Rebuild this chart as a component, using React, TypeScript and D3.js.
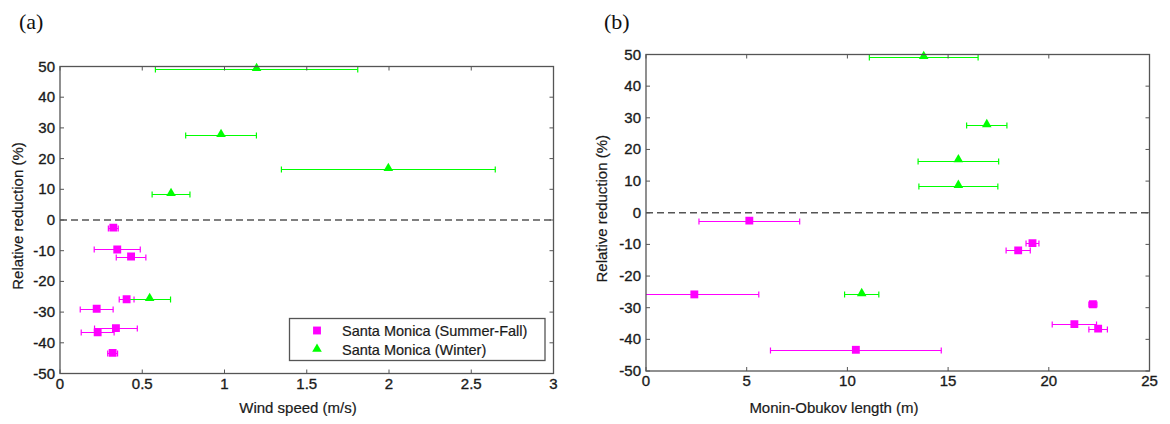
import React from "react";
import * as d3 from "d3";

// relative reduction (%) of each event, shared by both panels
const summerReduction = [-2.5, -9.6, -11.9, -25.8, -28.9, -35.2, -36.6, -43.3];
const winterReduction = [49.1, 27.6, 16.5, 8.4, -25.8];

// panel (a): wind speed (m/s) and its spread
const summerWind = [0.324, 0.348, 0.432, 0.405, 0.223, 0.34, 0.229, 0.32];
const summerWindErr = [0.03, 0.14, 0.09, 0.045, 0.1, 0.13, 0.1, 0.03];
const winterWind = [1.195, 0.979, 1.996, 0.675, 0.545];
const winterWindErr = [0.615, 0.215, 0.65, 0.115, 0.127];

// panel (b): Monin-Obukov length (m) and its spread
const summerMO = [5.13, 19.19, 18.48, 2.4, 22.19, 21.27, 22.45, 10.42];
const summerMOErr = [2.5, 0.32, 0.6, 3.2, 0.2, 1.1, 0.46, 4.24];
const winterMO = [13.79, 16.92, 15.51, 15.51, 10.71];
const winterMOErr = [2.7, 1.0, 2.0, 1.96, 0.85];

const windTicks = [0, 0.5, 1, 1.5, 2, 2.5, 3];
const moTicks = [0, 5, 10, 15, 20, 25];
const yTicks = [50, 40, 30, 20, 10, 0, -10, -20, -30, -40, -50];

const seriesNames = ["Santa Monica (Summer-Fall)", "Santa Monica (Winter)"];
const MAGENTA = "#ff00ff";
const GREEN = "#00ff00";
const FONT = "'Liberation Sans', Arial, sans-serif";

const squarePath = d3.symbol(d3.symbolSquare, 62)() as string;
const trianglePath = d3.symbol(d3.symbolTriangle, 40)() as string;

type PanelProps = {
  id: string;
  tag: string;
  left: number;
  right: number;
  top: number;
  bottom: number;
  xDomain: [number, number];
  xTicks: number[];
  xLabel: string;
  xLabelCenter: number;
  yLabelX: number;
  tagX: number;
  sx: number[];
  sErr: number[];
  wx: number[];
  wErr: number[];
  legend?: boolean;
};

const Panel = (p: PanelProps) => {
  const x = d3.scaleLinear().domain(p.xDomain).range([p.left, p.right]);
  const y = d3.scaleLinear().domain([-50, 50]).range([p.bottom, p.top]);
  const tick = 4;
  const frame = "#555";

  const errBars = (xs: number[], errs: number[], ys: number[], color: string) =>
    xs.map((v, i) => {
      const yy = Math.round(y(ys[i])) + 0.5;
      const x0 = x(v - errs[i]);
      const x1 = x(v + errs[i]);
      return (
        <g key={i} stroke={color} strokeWidth={1.2}>
          <line x1={x0} x2={x1} y1={yy} y2={yy} />
          <line x1={x0} x2={x0} y1={yy - 3} y2={yy + 3} />
          <line x1={x1} x2={x1} y1={yy - 3} y2={yy + 3} />
        </g>
      );
    });

  return (
    <g>
      <text x={p.tagX} y={29} fontFamily="'Liberation Serif', 'Times New Roman', serif" fontSize={22} fill="#111">
        {p.tag}
      </text>
      <defs>
        <clipPath id={p.id}>
          <rect x={p.left} y={p.top - 6} width={p.right - p.left} height={p.bottom - p.top + 6} />
        </clipPath>
      </defs>
      {/* zero line */}
      <line x1={p.left} x2={p.right} y1={y(0)} y2={y(0)} stroke="#555" strokeWidth={1.3} strokeDasharray="7,4" />
      <g clipPath={`url(#${p.id})`}>
        {errBars(p.sx, p.sErr, summerReduction, MAGENTA)}
        {errBars(p.wx, p.wErr, winterReduction, GREEN)}
        {p.sx.map((v, i) => (
          <path key={"s" + i} d={squarePath} transform={`translate(${x(v)},${y(summerReduction[i])})`} fill={MAGENTA} />
        ))}
        {p.wx.map((v, i) => (
          <path key={"w" + i} d={trianglePath} transform={`translate(${x(v)},${y(winterReduction[i]) - 1})`} fill={GREEN} />
        ))}
      </g>
      {/* frame and ticks */}
      <rect x={p.left} y={p.top} width={p.right - p.left} height={p.bottom - p.top} fill="none" stroke={frame} strokeWidth={1.3} />
      {p.xTicks.map((t) => (
        <g key={"xt" + t} stroke={frame}>
          <line x1={x(t)} x2={x(t)} y1={p.bottom} y2={p.bottom - tick} />
          <line x1={x(t)} x2={x(t)} y1={p.top} y2={p.top + tick} />
        </g>
      ))}
      {yTicks.map((t) => (
        <g key={"yt" + t} stroke={frame}>
          <line x1={p.left} x2={p.left + tick} y1={y(t)} y2={y(t)} />
          <line x1={p.right} x2={p.right - tick} y1={y(t)} y2={y(t)} />
        </g>
      ))}
      <g fontFamily={FONT} fill="#1a1a1a" stroke="#1a1a1a" strokeWidth={0.35}>
        {p.xTicks.map((t) => (
          <text key={"xl" + t} x={x(t)} y={p.bottom + 15} textAnchor="middle" fontSize={15}>
            {t}
          </text>
        ))}
        {yTicks.map((t) => (
          <text key={"yl" + t} x={p.left - 5} y={y(t) + 5} textAnchor="end" fontSize={15}>
            {t}
          </text>
        ))}
      </g>
      <g fontFamily={FONT} fill="#1a1a1a" stroke="#1a1a1a" strokeWidth={0.2}>
        <text x={p.xLabelCenter} y={413} textAnchor="middle" fontSize={15}>
          {p.xLabel}
        </text>
        <text
          transform={`translate(${p.yLabelX},${(p.top + p.bottom) / 2 - 4}) rotate(-90)`}
          textAnchor="middle"
          fontSize={15}
        >
          Relative reduction (%)
        </text>
      </g>
      {p.legend && (
        <g>
          <rect x={289.5} y={318.5} width={255.5} height={42} fill="#fff" stroke={frame} strokeWidth={1.3} />
          <path d={squarePath} transform="translate(317,330.5)" fill={MAGENTA} />
          <path d={trianglePath} transform="translate(317,349)" fill={GREEN} />
          <g fontFamily={FONT} fontSize={14.5} fill="#1a1a1a" stroke="#1a1a1a" strokeWidth={0.2}>
            <text x={342} y={335.5}>{seriesNames[0]}</text>
            <text x={342} y={354.5}>{seriesNames[1]}</text>
          </g>
        </g>
      )}
    </g>
  );
};

const App = () => {
  return (
    <svg width={1170} height={424} style={{ position: "absolute", left: 0, top: 0, background: "#fff" }}>
      <rect width={1170} height={424} fill="#fff" />
      <Panel
        id="clipA"
        tag="(a)"
        left={60}
        right={553.5}
        top={66.5}
        bottom={373.5}
        xDomain={[0, 3]}
        xTicks={windTicks}
        xLabel="Wind speed (m/s)"
        xLabelCenter={298}
        yLabelX={23}
        tagX={19}
        sx={summerWind}
        sErr={summerWindErr}
        wx={winterWind}
        wErr={winterWindErr}
        legend
      />
      <Panel
        id="clipB"
        tag="(b)"
        left={646}
        right={1149.5}
        top={54.5}
        bottom={371}
        xDomain={[0, 25]}
        xTicks={moTicks}
        xLabel="Monin-Obukov length (m)"
        xLabelCenter={834}
        yLabelX={607}
        tagX={604}
        sx={summerMO}
        sErr={summerMOErr}
        wx={winterMO}
        wErr={winterMOErr}
      />
    </svg>
  );
};

export default App;
